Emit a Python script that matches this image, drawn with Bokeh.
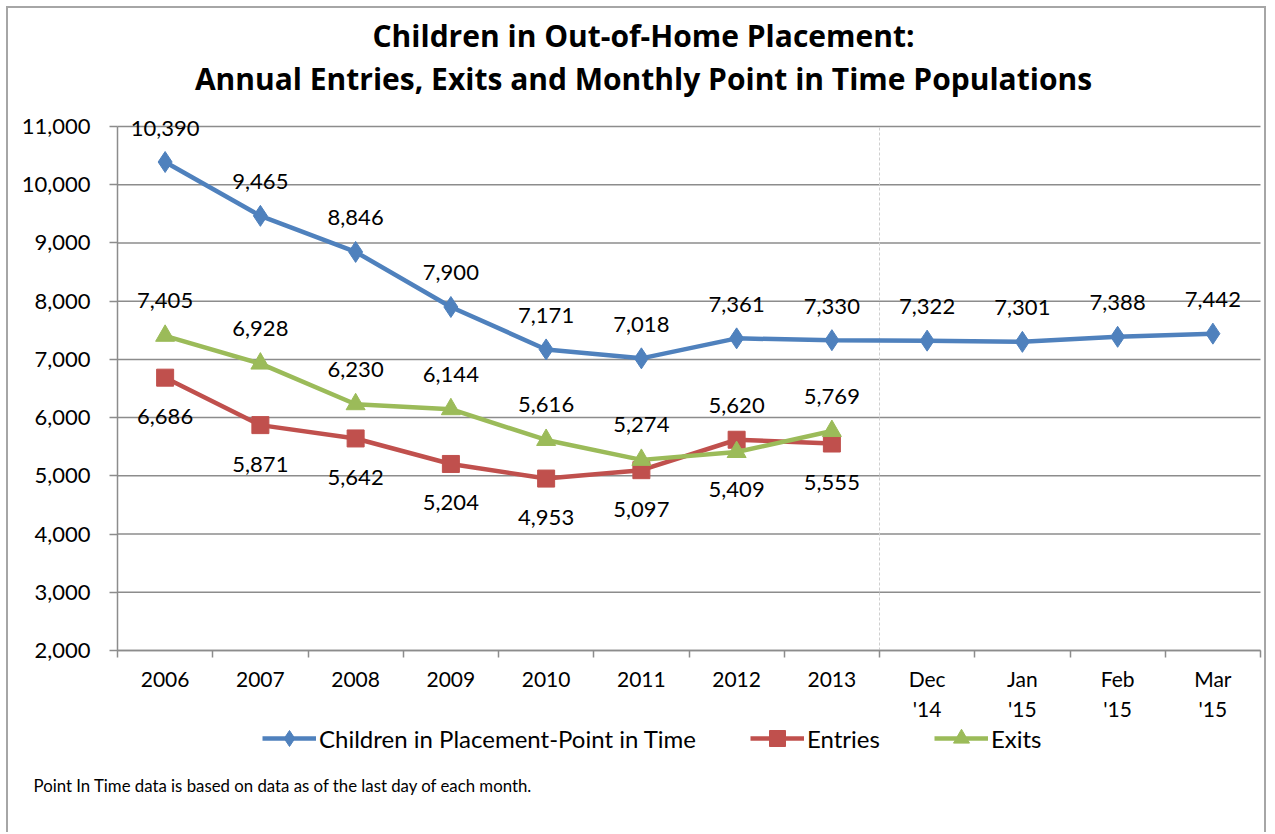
from bokeh.plotting import figure
from bokeh.models import (Range1d, FixedTicker, Label, Legend, LegendItem,
                          NumeralTickFormatter)
from bokeh.embed import file_html
from bokeh.resources import INLINE

categories = ["2006", "2007", "2008", "2009", "2010", "2011", "2012", "2013",
              "Dec\n'14", "Jan\n'15", "Feb\n'15", "Mar\n'15"]
point_in_time = [10390, 9465, 8846, 7900, 7171, 7018, 7361, 7330, 7322, 7301, 7388, 7442]
entries = [6686, 5871, 5642, 5204, 4953, 5097, 5620, 5555]
exits = [7405, 6928, 6230, 6144, 5616, 5274, 5409, 5769]
y_ticks = [2000, 3000, 4000, 5000, 6000, 7000, 8000, 9000, 10000, 11000]
title_lines = ["Children in Out-of-Home Placement:",
               "Annual Entries, Exits and Monthly Point in Time Populations"]
footnote = "Point In Time data is based on data as of the last day of each month."
series_names = ["Children in Placement-Point in Time", "Entries", "Exits"]

FONT = "Lato"
TFONT = "Open Sans"
BLUE, RED, GREEN = "#4F81BD", "#C0504D", "#9BBB59"
GRID = "#8c8c8c"

n = len(categories)
xc = [i + 0.5 for i in range(n)]

# layout (page pixels); the figure content starts at page (8, 8)
OFF = 8
W, H = 1260, 826
PL, PR, PT, PB = 117, 1260, 126, 650        # plot-area edges on the page
ppx = (PR - PL) / n                          # px per category
ppy = (PB - PT) / (y_ticks[-1] - y_ticks[0]) # px per unit

def px_x(page_x):
    return (page_x - PL) / ppx

def px_y(page_y):
    return y_ticks[0] + (PB - page_y) / ppy

x_range = Range1d(px_x(OFF), px_x(OFF + W))
y_range = Range1d(px_y(OFF + H), px_y(OFF))

p = figure(width=W, height=H, output_backend="svg", toolbar_location=None,
           x_range=x_range, y_range=y_range)
p.title.visible = False
p.min_border_left = p.min_border_right = p.min_border_top = p.min_border_bottom = 0
p.outline_line_color = None
p.background_fill_color = "white"
p.border_fill_color = "white"
p.styles = {"margin-left": "6px", "margin-top": "6px",
            "border-left": "2px solid #a6a6a6", "border-top": "2px solid #a6a6a6",
            "border-right": "2px solid #a6a6a6"}

# axes at fixed positions inside the canvas
xa = p.xaxis[0]
xa.fixed_location = y_ticks[0]
xa.bounds = (0, n)
xa.ticker = FixedTicker(ticks=xc, minor_ticks=list(range(n + 1)))
xa.major_label_overrides = {x: c for x, c in zip(xc, categories)}
xa.major_tick_out = 0
xa.major_tick_in = 0
xa.minor_tick_out = 7
xa.minor_tick_in = 0
xa.minor_tick_line_color = GRID
xa.minor_tick_line_width = 1.5
xa.axis_line_color = GRID
xa.axis_line_width = 1.5
xa.major_label_text_font = FONT
xa.major_label_text_font_size = "21px"
xa.major_label_text_color = "black"
xa.major_label_standoff = 8

ya = p.yaxis[0]
ya.fixed_location = 0
ya.bounds = (y_ticks[0], y_ticks[-1])
ya.ticker = FixedTicker(ticks=y_ticks, minor_ticks=[])
ya.formatter = NumeralTickFormatter(format="0,0")
ya.major_tick_out = 8
ya.major_tick_in = 0
ya.major_tick_line_color = GRID
ya.major_tick_line_width = 1.5
ya.axis_line_color = GRID
ya.axis_line_width = 1.5
ya.major_label_text_font = FONT
ya.major_label_text_font_size = "22px"
ya.major_label_text_color = "black"
ya.major_label_standoff = 19
ya.minor_tick_line_color = None

p.xgrid.visible = False
p.ygrid.visible = False
# horizontal gridlines spanning only the plot area
p.segment(x0=[0] * len(y_ticks), x1=[n] * len(y_ticks), y0=y_ticks, y1=y_ticks,
          line_color=GRID, line_width=1.5)
# dotted divider between annual and monthly data
p.segment(x0=[8], y0=[y_ticks[0]], x1=[8], y1=[y_ticks[-1]], line_color="#cfcfcf",
          line_width=1, line_dash="3 2")

# series
l1 = p.line(xc, point_in_time, line_color=BLUE, line_width=4.5)
m1 = p.scatter(xc, point_in_time, marker="diamond", size=21, fill_color=BLUE, line_color=BLUE)
xe = xc[:len(entries)]
l2 = p.line(xe, entries, line_color=RED, line_width=4.5)
m2 = p.scatter(xe, entries, marker="square", size=17, fill_color=RED, line_color=RED)
l3 = p.line(xe, exits, line_color=GREEN, line_width=4.5)
m3 = p.scatter(xe, exits, marker="triangle", size=19, fill_color=GREEN, line_color=GREEN)

def add_label(x, y, txt, off):
    p.add_layout(Label(x=x, y=y, text=txt, y_offset=off, text_align="center",
                       text_baseline="middle", text_font=FONT,
                       text_font_size="22px", text_color="black"))

for x, v in zip(xc, point_in_time):
    add_label(x, v, f"{v:,}", 34)
for i, (x, v) in enumerate(zip(xe, entries)):
    add_label(x, v, f"{v:,}", 34 if categories[i] == "2012" else -39)
for i, (x, v) in enumerate(zip(xe, exits)):
    add_label(x, v, f"{v:,}", -37 if categories[i] == "2012" else 35)

# title
for txt, cy in zip(title_lines, (35, 78)):
    p.add_layout(Label(x=px_x(643), y=px_y(cy), text=txt, text_align="center",
                       text_baseline="middle", text_font=TFONT, text_font_style="bold",
                       text_font_size="30px", text_color="black"))

# footnote
p.add_layout(Label(x=px_x(33), y=px_y(785), text=footnote, text_align="left",
                   text_baseline="middle", text_font=FONT, text_font_size="16.8px",
                   text_color="black"))

GH = 40
legend = Legend(items=[
    LegendItem(label=series_names[0], renderers=[l1, m1]),
    LegendItem(label=series_names[1], renderers=[l2, m2]),
    LegendItem(label=series_names[2], renderers=[l3, m3]),
], orientation="horizontal",
   location=(262 - OFF, (OFF + H) - 738 - GH / 2),
   glyph_width=54, glyph_height=GH, label_standoff=3, spacing=54, padding=0, margin=0,
   label_text_font=FONT, label_text_font_size="24px", label_text_color="black",
   border_line_color=None, background_fill_alpha=0)
p.add_layout(legend, "center")

open("out.html", "w").write(file_html(p, INLINE))
